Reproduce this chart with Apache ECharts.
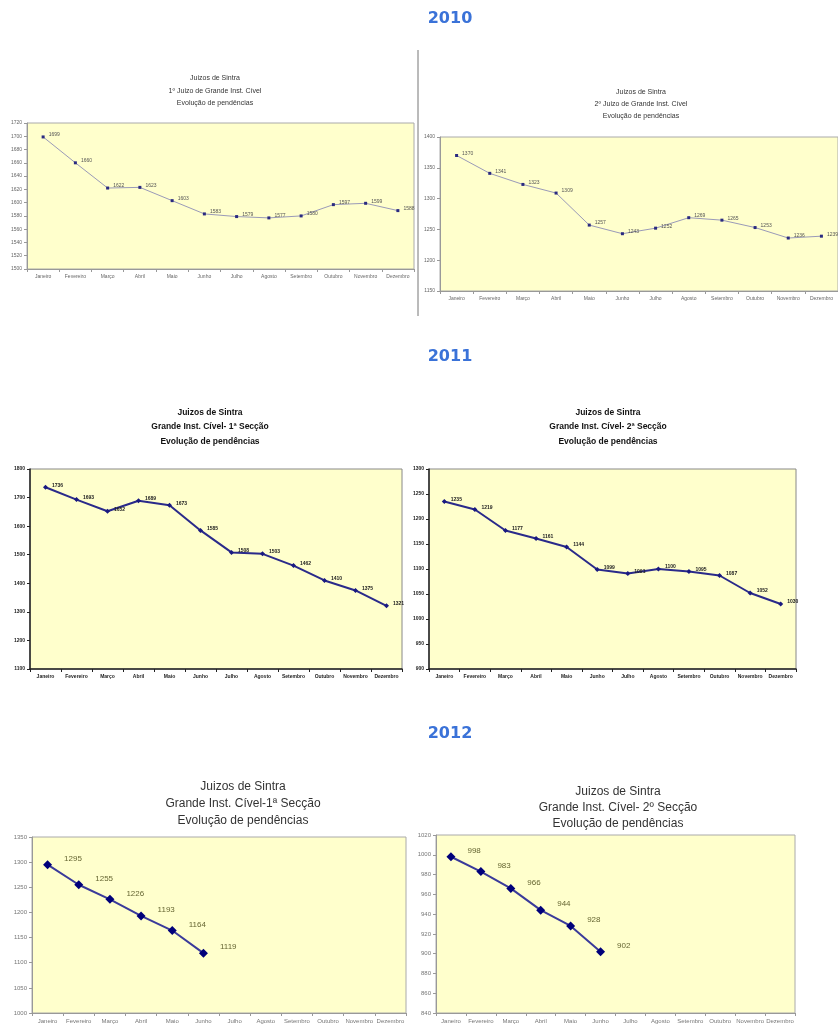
<!DOCTYPE html>
<html><head><meta charset="utf-8">
<script src="https://cdn.jsdelivr.net/npm/echarts@6/dist/echarts.min.js"></script>
<style>html,body{margin:0;padding:0;background:#fff;}#c{width:838px;height:1026px;}</style>
</head><body><div id="c"></div>
<script>
const months = ['Janeiro','Fevereiro','Março','Abril','Maio','Junho','Julho','Agosto','Setembro','Outubro','Novembro','Dezembro'];
const years = ['2010','2011','2012'];
const titlesA = ['Juizos de Sintra\n1º Juizo de Grande Inst. Cível\nEvolução de pendências',
                 'Juizos de Sintra\n2º Juizo de Grande Inst. Cível\nEvolução de pendências'];
const titlesB = ['Juizos de Sintra\nGrande Inst. Cível- 1ª Secção\nEvolução de pendências',
                 'Juizos de Sintra\nGrande Inst. Cível- 2ª Secção\nEvolução de pendências'];
const titlesC = ['Juizos de Sintra\nGrande Inst. Cível-1ª Secção\nEvolução de pendências',
                 'Juizos de Sintra\nGrande Inst. Cível- 2º Secção\nEvolução de pendências'];
const v2010a = [1699,1660,1622,1623,1603,1583,1579,1577,1580,1597,1599,1588];
const v2010b = [1370,1341,1323,1309,1257,1243,1252,1269,1265,1253,1236,1239];
const v2011a = [1736,1693,1652,1689,1673,1585,1508,1503,1462,1410,1375,1321];
const v2011b = [1235,1219,1177,1161,1144,1099,1091,1100,1095,1087,1052,1030];
const v2012a = [1295,1255,1226,1193,1164,1119,null,null,null,null,null,null];
const v2012b = [998,983,966,944,928,902,null,null,null,null,null,null];
const yRanges = [[1500,1720,20],[1150,1400,50],[1100,1800,100],[900,1300,50],[1000,1350,50],[840,1020,20]];

const chart = echarts.init(document.getElementById('c'));
const F = 'Liberation Sans, Arial, sans-serif';
const FN = 'Liberation Sans Narrow, Liberation Sans, Arial, sans-serif';

const grids = [
  {left:27, top:123, width:387, height:146},
  {left:440, top:137, width:408, height:154},
  {left:30, top:469, width:372, height:200},
  {left:429, top:469, width:367, height:200},
  {left:32, top:837, width:374, height:176},
  {left:436, top:835, width:359, height:178}
];
const styles = [
  {fs:5, fw:'normal', ff:F, col:'#666', axis:'#999', axisW:1, border:'#aaa', line:'#9a9ab8', lw:1, sym:'rect', ss:3, mc:'#2a2a80', lfs:5, lcol:'#555'},
  {fs:5, fw:'normal', ff:F, col:'#666', axis:'#999', axisW:1, border:'#aaa', line:'#9a9ab8', lw:1, sym:'rect', ss:3, mc:'#2a2a80', lfs:5, lcol:'#555'},
  {fs:5, fw:'bold', ff:FN, col:'#222', axis:'#222', axisW:1.5, border:'#888', line:'#2a2a8a', lw:2, sym:'diamond', ss:5, mc:'#1a1a80', lfs:5, lcol:'#222'},
  {fs:5, fw:'bold', ff:FN, col:'#222', axis:'#222', axisW:1.5, border:'#888', line:'#2a2a8a', lw:2, sym:'diamond', ss:5, mc:'#1a1a80', lfs:5, lcol:'#222'},
  {fs:6, fw:'normal', ff:F, col:'#777', axis:'#999', axisW:1, border:'#aaa', line:'#3a3a9a', lw:2, sym:'diamond', ss:9, mc:'#00007a', lfs:8, lcol:'#666633'},
  {fs:6, fw:'normal', ff:F, col:'#777', axis:'#999', axisW:1, border:'#aaa', line:'#3a3a9a', lw:2, sym:'diamond', ss:9, mc:'#00007a', lfs:8, lcol:'#666633'}
];
const data = [v2010a, v2010b, v2011a, v2011b, v2012a, v2012b];

const titles = [];
years.forEach((y,i)=>{
  titles.push({text:y, left:445, top:[6,344,721][i], textAlign:'center',
    textStyle:{fontSize:16, fontWeight:'bold', color:'#3a72d8', fontFamily:'DejaVu Sans, sans-serif'}});
});
titles.push({text:titlesA[0], left:210, top:67, textAlign:'center', textStyle:{fontSize:7, lineHeight:12.5, color:'#333', fontWeight:'normal', fontFamily:F}});
titles.push({text:titlesA[1], left:636, top:81, textAlign:'center', textStyle:{fontSize:7, lineHeight:12, color:'#333', fontWeight:'normal', fontFamily:F}});
titles.push({text:titlesB[0], left:205, top:400, textAlign:'center', textStyle:{fontSize:8.5, lineHeight:14.5, color:'#111', fontWeight:'bold', fontFamily:FN}});
titles.push({text:titlesB[1], left:603, top:400, textAlign:'center', textStyle:{fontSize:8.5, lineHeight:14.5, color:'#111', fontWeight:'bold', fontFamily:FN}});
titles.push({text:titlesC[0], left:238, top:773, textAlign:'center', textStyle:{fontSize:12, lineHeight:17, color:'#333', fontWeight:'normal', fontFamily:F}});
titles.push({text:titlesC[1], left:613, top:779, textAlign:'center', textStyle:{fontSize:12, lineHeight:16, color:'#333', fontWeight:'normal', fontFamily:F}});

const option = {
  backgroundColor:'#fff',
  animation:false,
  title:titles,
  grid: grids.map((g,i)=>Object.assign({show:true, backgroundColor:'#FFFFCC', borderColor:styles[i].border, borderWidth:1}, g)),
  xAxis: grids.map((g,i)=>({type:'category', gridIndex:i, data:months, boundaryGap:true,
    axisLine:{lineStyle:{color:styles[i].axis, width:styles[i].axisW}},
    axisTick:{show:true, length:3, lineStyle:{color:styles[i].axis}},
    axisLabel:{interval:0, fontSize:styles[i].fs, fontWeight:styles[i].fw, fontFamily:styles[i].ff, color:styles[i].col, margin:5}})),
  yAxis: grids.map((g,i)=>({type:'value', gridIndex:i, min:yRanges[i][0], max:yRanges[i][1], interval:yRanges[i][2],
    axisLine:{show:true, lineStyle:{color:styles[i].axis, width:styles[i].axisW}},
    axisTick:{show:true, length:3, lineStyle:{color:styles[i].axis}},
    splitLine:{show:false},
    axisLabel:{formatter:v=>String(v), fontSize:styles[i].fs, fontWeight:styles[i].fw, fontFamily:styles[i].ff, color:styles[i].col, margin:5}})),
  series: data.map((d,i)=>({type:'line', xAxisIndex:i, yAxisIndex:i, data:d,
    symbol:styles[i].sym, symbolSize:styles[i].ss, showAllSymbol:true,
    lineStyle:{color:styles[i].line, width:styles[i].lw},
    itemStyle:{color:styles[i].mc},
    label:{show:true, position:'right', distance:i>=4?12:4, offset:i>=4?[0,-6]:[0,-2], fontSize:styles[i].lfs, fontWeight:styles[i].fw, fontFamily:styles[i].ff, color:styles[i].lcol}})),
  graphic:[{type:'line', shape:{x1:418, y1:50, x2:418, y2:316}, style:{stroke:'#777', lineWidth:1}}]
};
chart.setOption(option);
</script>
</body></html>
